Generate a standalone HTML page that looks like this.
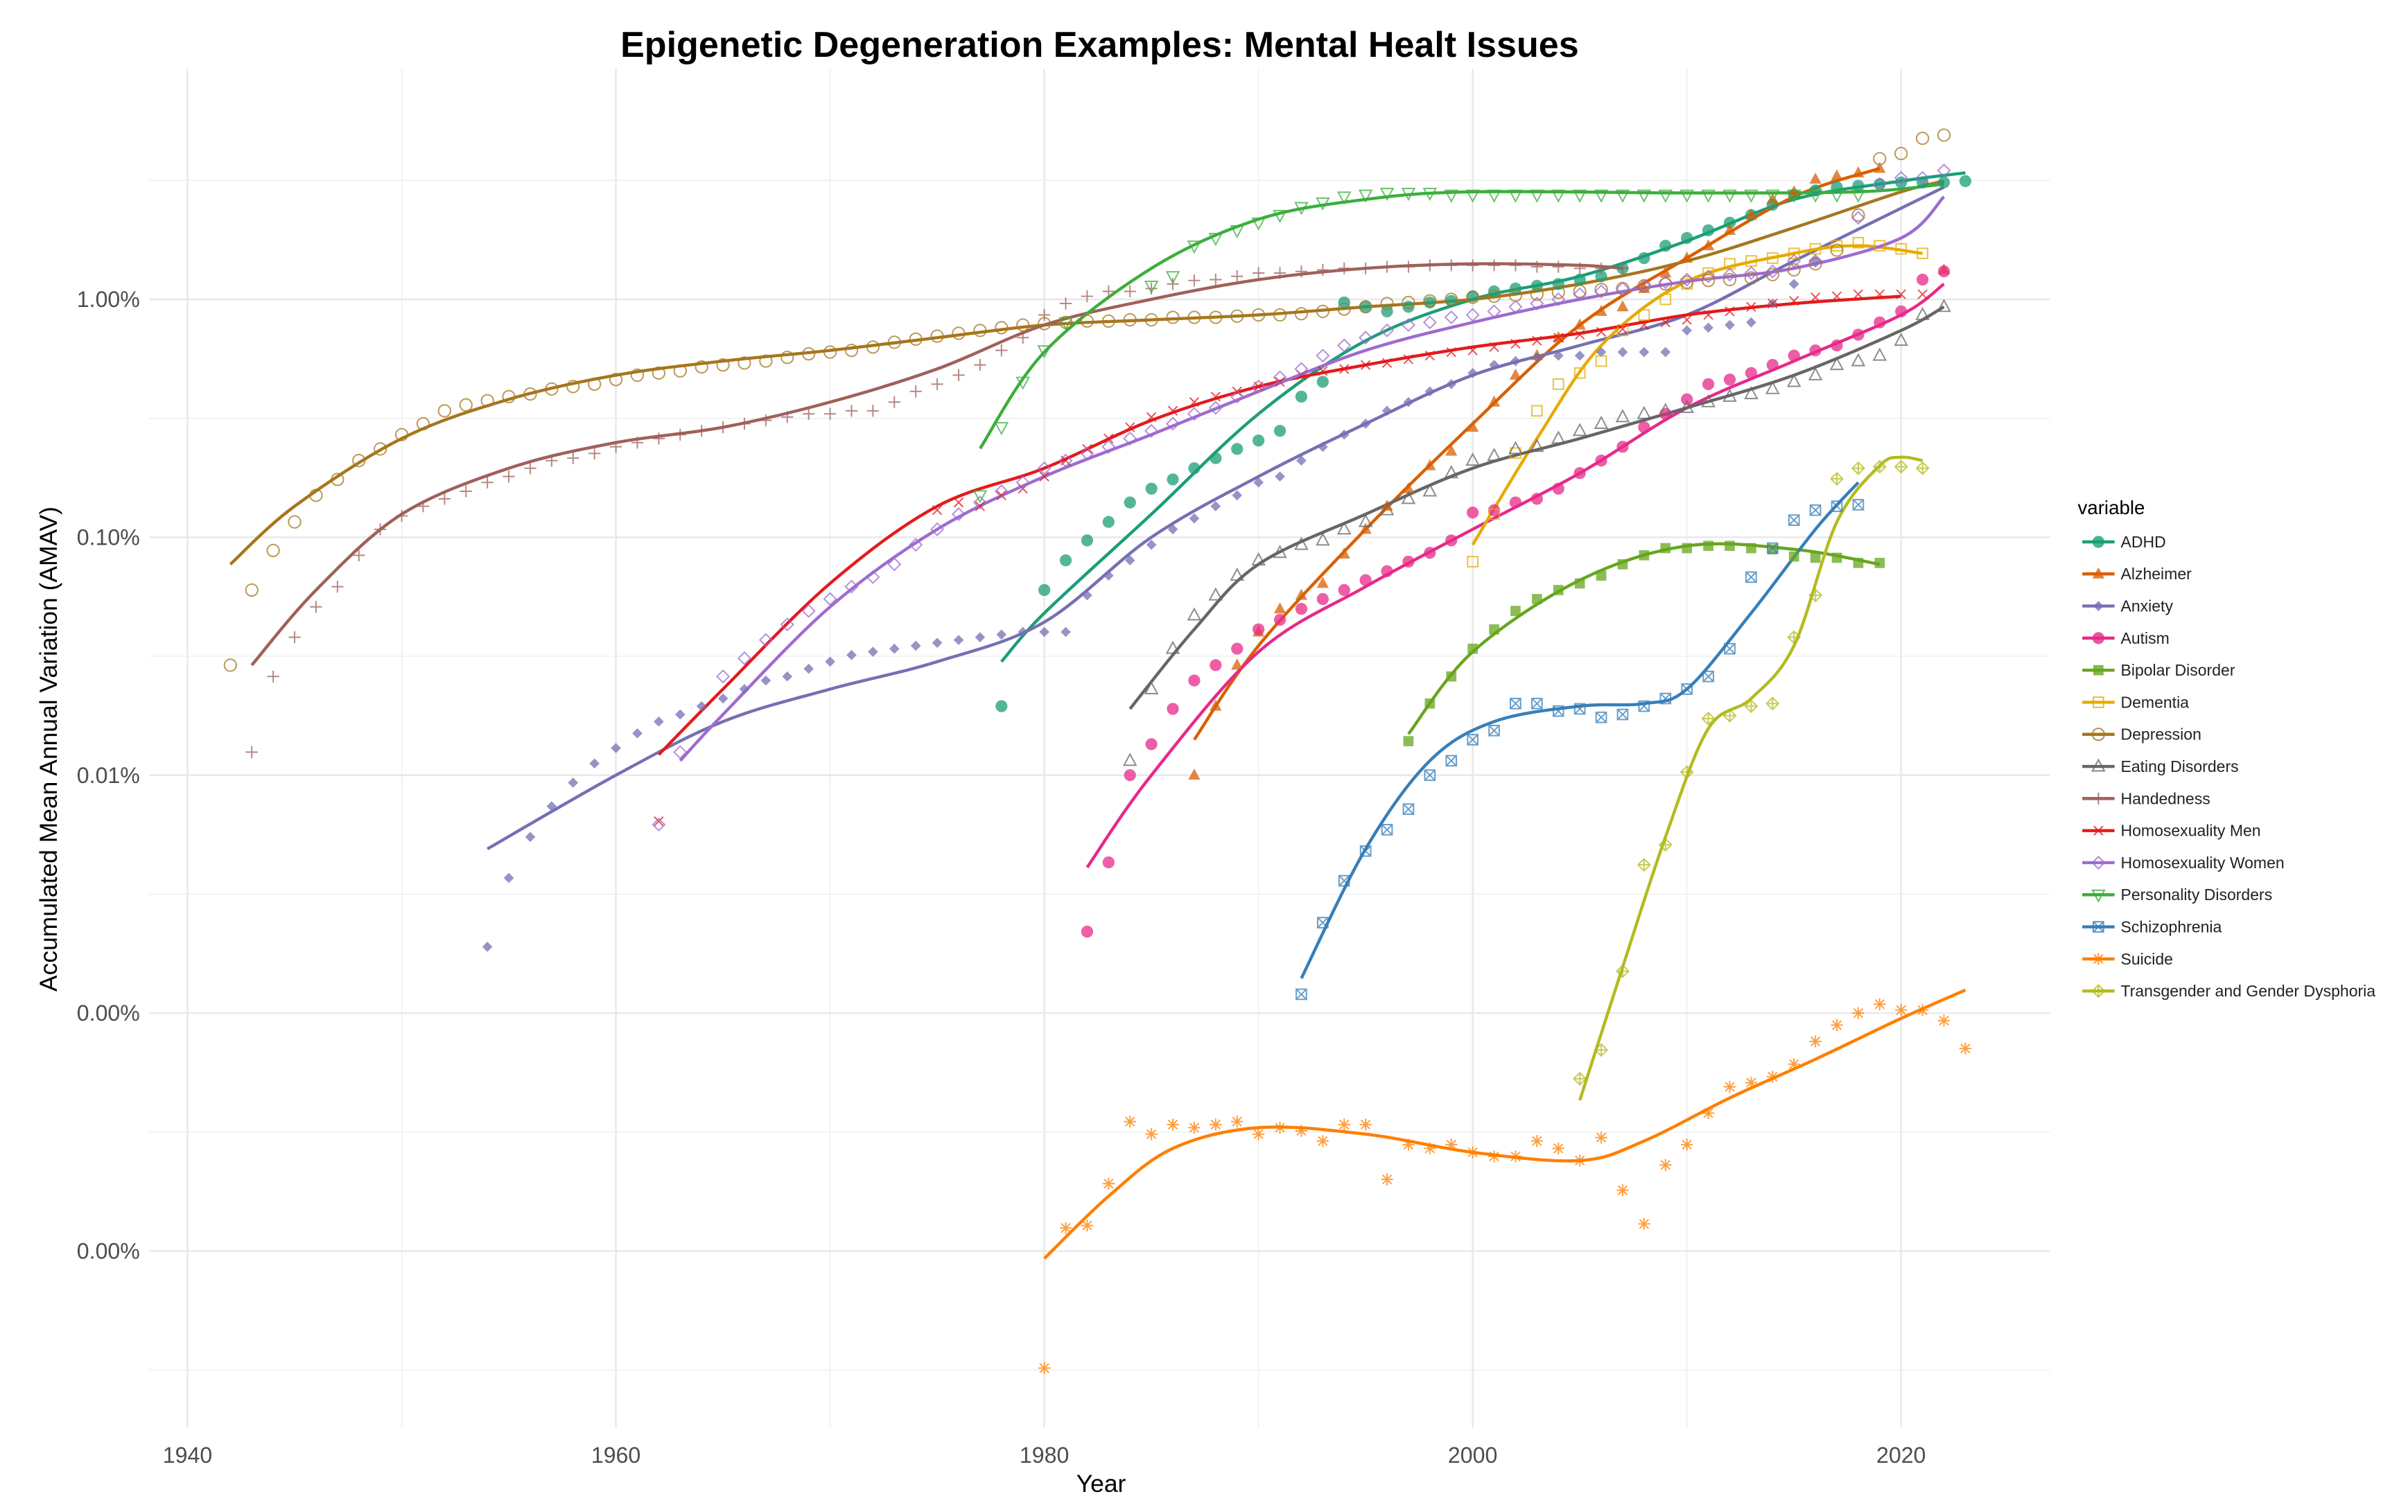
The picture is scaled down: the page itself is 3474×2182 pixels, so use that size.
<!DOCTYPE html>
<html><head><meta charset="utf-8"><style>
html,body{margin:0;padding:0;background:#fff;}
svg{display:block;font-family:"Liberation Sans",Arial,sans-serif;}
</style></head><body>
<svg id="chart" xmlns="http://www.w3.org/2000/svg" width="3474" height="2182" viewBox="0 0 1568 985">
<rect x="0" y="0" width="1568" height="985" fill="#ffffff"/>
<g id="grid"></g>
<g id="lines"></g>
<g id="points"></g>
<g id="axes"></g>
<g id="legend"></g>
<text x="716" y="37" text-anchor="middle" font-size="23.5" font-weight="bold" fill="#000">Epigenetic Degeneration Examples: Mental Healt Issues</text>
<text x="717" y="972" text-anchor="middle" font-size="16" fill="#000">Year</text>
<text transform="translate(37,488) rotate(-90)" text-anchor="middle" font-size="16" fill="#000">Accumulated Mean Annual Variation (AMAV)</text>
</svg>
<script>
function yrs(a,b){var r=[];for(var i=a;i<=b;i++)r.push(i);return r;}
// ---- data (values in %) ----
const adhdYears=[1978].concat(yrs(1980,2023));
const adhdValues=[.0195,.060,.080,.097,.116,.14,.16,.175,.195,.215,.235,.255,.28,.39,.45,.97,.93,.89,.93,.97,.985,1.03,1.08,1.11,1.14,1.16,1.21,1.25,1.35,1.49,1.68,1.81,1.95,2.10,2.26,2.5,2.75,2.87,2.96,3.0,3.05,3.1,3.1,3.1,3.14];
const adhdTrendYears=[1978,1980,1985,1990,1995,2000,2005,2010,2015,2020,2023];
const adhdTrendValues=[.030,.048,.125,.33,.67,1,1.25,1.76,2.63,3.14,3.4];

const alzYears=yrs(1987,2019).concat([2022]);
const alzValues=[.01,.0195,.029,.040,.050,.057,.064,.085,.108,.135,.16,.20,.23,.29,.37,.48,.58,.69,.78,.89,.93,1.11,1.29,1.49,1.68,1.95,2.26,2.63,2.83,3.2,3.3,3.4,3.55,1.33];
const alzTrendYears=[1987,1990,1995,2000,2005,2010,2015,2019];
const alzTrendValues=[.0141,.035,.108,.30,.78,1.49,2.7,3.55];

const anxYears=yrs(1954,2016);
const anxValues=[.0019,.0037,.0055,.0074,.0093,.0112,.013,.015,.0168,.018,.0195,.021,.023,.025,.026,.028,.030,.032,.033,.034,.035,.036,.037,.038,.039,.040,.040,.040,.057,.069,.080,.093,.108,.12,.135,.15,.17,.18,.21,.24,.27,.30,.34,.37,.41,.44,.49,.53,.55,.57,.58,.58,.60,.60,.60,.60,.74,.76,.78,.80,.96,1.16,1.45];
const anxTrendYears=[1954,1960,1965,1970,1975,1980,1985,1990,1995,2000,2005,2010,2015,2022];
const anxTrendValues=[.0049,.01,.0168,.023,.030,.044,.1,.18,.30,.48,.64,.86,1.45,2.96];

const autYears=yrs(1982,2022);
const autValues=[.0022,.0043,.01,.0135,.019,.025,.029,.034,.041,.045,.050,.055,.060,.066,.072,.079,.086,.097,.127,.13,.14,.145,.16,.186,.21,.24,.29,.33,.38,.44,.46,.49,.53,.58,.61,.64,.71,.80,.89,1.21,1.31];
const autTrendYears=[1982,1985,1990,1995,2000,2005,2010,2015,2020,2022];
const autTrendValues=[.0041,.01,.033,.062,.108,.186,.35,.55,.86,1.16];

const bipYears=yrs(1997,2019);
const bipValues=[.0139,.020,.026,.034,.041,.049,.055,.060,.064,.069,.077,.084,.090,.090,.092,.092,.090,.089,.083,.082,.082,.078,.078];
const bipTrendYears=[1997,2000,2005,2010,2015,2019];
const bipTrendValues=[.0149,.033,.066,.092,.089,.077];

const demYears=yrs(2000,2021);
const demValues=[.079,.125,.226,.34,.44,.49,.55,.74,.86,1.0,1.16,1.29,1.41,1.45,1.49,1.56,1.63,1.68,1.73,1.68,1.63,1.56];
const demTrendYears=[2000,2003,2006,2010,2015,2018,2021];
const demTrendValues=[.093,.26,.64,1.19,1.56,1.68,1.56];

const depYears=yrs(1942,2022);
const depValues=[.029,.060,.088,.116,.15,.175,.21,.235,.27,.30,.34,.36,.375,.39,.40,.42,.43,.44,.46,.48,.49,.50,.52,.53,.54,.55,.57,.59,.60,.61,.63,.66,.68,.70,.72,.74,.76,.78,.79,.80,.81,.81,.82,.82,.84,.84,.84,.85,.86,.86,.87,.89,.91,.93,.96,.97,.985,1.0,1.02,1.03,1.04,1.05,1.07,1.08,1.10,1.11,1.14,1.16,1.18,1.20,1.21,1.23,1.27,1.33,1.41,1.61,2.26,3.9,4.1,4.75,4.9];
const depTrendYears=[1942,1945,1950,1955,1960,1965,1970,1975,1980,1985,1990,1995,2000,2005,2010,2015,2020,2022];
const depTrendValues=[.077,.135,.26,.38,.48,.55,.61,.69,.78,.82,.86,.93,1,1.16,1.45,2.0,2.83,3.14];

const eatYears=yrs(1984,2022);
const eatValues=[.0115,.023,.034,.047,.057,.069,.080,.086,.093,.097,.108,.116,.13,.145,.156,.186,.21,.22,.235,.24,.26,.28,.30,.32,.33,.34,.35,.37,.39,.40,.42,.45,.48,.53,.55,.58,.67,.86,.93];
const eatTrendYears=[1984,1987,1990,1995,2000,2005,2010,2015,2020,2022];
const eatTrendValues=[.019,.041,.077,.125,.195,.26,.35,.48,.74,.93];

const handYears=yrs(1943,2007);
const handValues=[.0125,.026,.038,.051,.062,.084,.108,.123,.135,.145,.156,.17,.18,.195,.21,.215,.225,.24,.25,.26,.27,.28,.29,.30,.31,.32,.33,.33,.34,.34,.37,.41,.44,.48,.53,.61,.69,.86,.96,1.03,1.08,1.08,1.11,1.16,1.20,1.21,1.25,1.29,1.29,1.31,1.33,1.35,1.35,1.37,1.37,1.39,1.39,1.39,1.39,1.39,1.37,1.37,1.35,1.35,1.35];
const handTrendYears=[1943,1946,1950,1955,1960,1965,1970,1975,1980,1985,1990,1995,2000,2005,2007];
const handTrendValues=[.029,.060,.125,.195,.25,.29,.37,.51,.78,1,1.21,1.35,1.41,1.39,1.35];

const menYears=[1962].concat(yrs(1975,2021));
const menValues=[.0064,.13,.14,.135,.15,.16,.18,.21,.235,.26,.29,.32,.34,.37,.39,.41,.43,.45,.48,.50,.51,.53,.54,.56,.58,.60,.61,.63,.65,.67,.69,.71,.73,.75,.78,.80,.82,.86,.89,.93,.96,.985,1.02,1.03,1.05,1.05,1.05,1.05];
const menTrendYears=[1962,1965,1970,1975,1980,1985,1990,1995,2000,2005,2010,2015,2020];
const menTrendValues=[.0122,.023,.064,.135,.195,.31,.43,.53,.63,.72,.86,.96,1.03];

const womYears=[1962,1963].concat(yrs(1965,2016),yrs(2018,2022));
const womValues=[.0062,.0125,.026,.031,.037,.043,.049,.055,.062,.068,.077,.093,.108,.125,.14,.156,.17,.195,.21,.225,.24,.26,.28,.30,.33,.35,.39,.43,.47,.51,.58,.64,.69,.74,.78,.80,.84,.86,.89,.93,.96,1.0,1.05,1.08,1.11,1.14,1.18,1.21,1.25,1.27,1.29,1.31,1.45,1.45,2.2,3.05,3.24,3.24,3.48];
const womTrendYears=[1963,1965,1970,1975,1980,1985,1990,1995,2000,2005,2010,2015,2020,2022];
const womTrendValues=[.0115,.018,.051,.108,.18,.27,.41,.61,.80,1,1.19,1.35,1.81,2.7];

const perYears=yrs(1977,1981).concat(yrs(1985,2018));
const perValues=[.15,.29,.45,.61,.80,1.14,1.25,1.68,1.81,1.95,2.10,2.26,2.44,2.55,2.7,2.75,2.8,2.8,2.8,2.75,2.75,2.75,2.75,2.75,2.75,2.75,2.75,2.75,2.75,2.75,2.75,2.75,2.75,2.75,2.75,2.75,2.75,2.75,2.75];
const perTrendYears=[1977,1980,1985,1990,1995,2000,2010,2018,2022];
const perTrendValues=[.236,.60,1.35,2.17,2.63,2.83,2.8,2.83,3.05];

const schYears=yrs(1992,2018);
const schValues=[.0012,.0024,.0036,.0048,.0059,.0072,.01,.0115,.0141,.0154,.020,.020,.0186,.019,.0175,.018,.0195,.021,.023,.026,.034,.068,.090,.118,.13,.135,.137];
const schTrendYears=[1992,1995,1998,2001,2005,2008,2010,2013,2016,2018];
const schTrendValues=[.0014,.0049,.0115,.0168,.0195,.020,.023,.048,.108,.17];

const suiYears=yrs(1980,2023);
const suiValues=[.0000322,.000125,.000128,.000192,.00035,.00031,.00034,.00033,.00034,.00035,.00031,.00033,.00032,.00029,.00034,.00034,.0002,.00028,.00027,.00028,.00026,.00025,.00025,.00029,.00027,.00024,.00030,.00018,.00013,.00023,.00028,.00038,.00049,.00051,.00054,.00061,.00076,.00089,.001,.00109,.00103,.00103,.00093,.00071];
const suiTrendYears=[1980,1983,1986,1990,1995,2000,2005,2008,2012,2016,2020,2023];
const suiTrendValues=[.000093,.00017,.00027,.00033,.00031,.00026,.00024,.00029,.00044,.00064,.00095,.00125];

const traYears=yrs(2005,2021);
const traValues=[.00053,.00070,.0015,.0042,.0051,.0103,.0173,.0178,.0195,.020,.038,.057,.176,.195,.198,.198,.195];
const traTrendYears=[2005,2007,2009,2011,2013,2015,2017,2019,2020,2021];
const traTrendValues=[.00043,.00156,.0055,.0157,.021,.035,.116,.20,.217,.21];

const seriesNames=["ADHD","Alzheimer","Anxiety","Autism","Bipolar Disorder","Dementia","Depression","Eating Disorders","Handedness","Homosexuality Men","Homosexuality Women","Personality Disorders","Schizophrenia","Suicide","Transgender and Gender Dysphoria"];
const xTickLabels=["1940","1960","1980","2000","2020"];
const xTickYears=[1940,1960,1980,2000,2020];
const yTickValues=[1,0.1,0.01,0.001,0.0001];
const yTickLabels=["1.00%","0.10%","0.01%","0.00%","0.00%"];

const S=[
 [adhdYears,adhdValues,adhdTrendYears,adhdTrendValues,"#1b9e77","circle"],
 [alzYears,alzValues,alzTrendYears,alzTrendValues,"#d95f02","tri"],
 [anxYears,anxValues,anxTrendYears,anxTrendValues,"#7570b3","diamond"],
 [autYears,autValues,autTrendYears,autTrendValues,"#e7298a","circle"],
 [bipYears,bipValues,bipTrendYears,bipTrendValues,"#66a61e","square"],
 [demYears,demValues,demTrendYears,demTrendValues,"#e6ab02","osquare"],
 [depYears,depValues,depTrendYears,depTrendValues,"#a6761d","ocircle"],
 [eatYears,eatValues,eatTrendYears,eatTrendValues,"#666666","otri"],
 [handYears,handValues,handTrendYears,handTrendValues,"#a0605a","plus"],
 [menYears,menValues,menTrendYears,menTrendValues,"#e41a1c","cross"],
 [womYears,womValues,womTrendYears,womTrendValues,"#9e6bd0","odiamond"],
 [perYears,perValues,perTrendYears,perTrendValues,"#3cae3c","otridown"],
 [schYears,schValues,schTrendYears,schTrendValues,"#377eb8","squarex"],
 [suiYears,suiValues,suiTrendYears,suiTrendValues,"#ff7f00","asterisk"],
 [traYears,traValues,traTrendYears,traTrendValues,"#b3bb1f","diamondplus"]
];

// ---- scales ----
function xs(yr){return 680+(yr-1980)*13.95;}
function ys(v){return 195-155*Math.log10(v);}
const NS="http://www.w3.org/2000/svg";
function mk(tag,attrs,parent){var e=document.createElementNS(NS,tag);for(var k in attrs)e.setAttribute(k,attrs[k]);parent.appendChild(e);return e;}
function slug(s){return s.toLowerCase().replace(/[^a-z0-9]+/g,'-');}

// grid
const grid=document.getElementById('grid');
const PL=97,PR=1335,PT=45,PB=930;
[1950,1970,1990,2010].forEach(function(yr){var l=mk('line',{x1:xs(yr),x2:xs(yr),y1:PT,y2:PB,stroke:'#ededed','stroke-width':0.6},grid);

});
xTickYears.forEach(function(yr){var l=mk('line',{x1:xs(yr),x2:xs(yr),y1:PT,y2:PB,stroke:'#e8e8e8','stroke-width':1.1},grid);

});
yTickValues.forEach(function(v){var yy=ys(v);var l=mk('line',{x1:PL,x2:PR,y1:yy,y2:yy,stroke:'#e8e8e8','stroke-width':1.1},grid);


var y2=ys(v*Math.sqrt(10));var m=mk('line',{x1:PL,x2:PR,y1:y2,y2:y2,stroke:'#ededed','stroke-width':0.6},grid);

});
var lm=ys(0.0001/Math.sqrt(10));var lml=mk('line',{x1:PL,x2:PR,y1:lm,y2:lm,stroke:'#ededed','stroke-width':0.6},grid);



// axes labels
const axes=document.getElementById('axes');
xTickYears.forEach(function(yr,i){var t=mk('text',{x:xs(yr),y:953,'text-anchor':'middle','font-size':14.5,fill:'#4d4d4d'},axes);t.textContent=xTickLabels[i];

});
yTickValues.forEach(function(v,i){var t=mk('text',{x:91,y:ys(v)+5,'text-anchor':'end','font-size':14.5,fill:'#4d4d4d'},axes);t.textContent=yTickLabels[i];

});

// marker
function marker(shape,cx,cy,col,parent,r){
 r=r||3.9;var g=mk('g',{},parent);var sw=0.9;
 if(shape==='circle')mk('circle',{cx:cx,cy:cy,r:r,fill:col},g);
 else if(shape==='tri')mk('polygon',{points:[cx,cy-r*1.1,cx+r,cy+r*0.75,cx-r,cy+r*0.75].join(' '),fill:col},g);
 else if(shape==='diamond'){var q=r*0.85;mk('polygon',{points:[cx,cy-q,cx+q,cy,cx,cy+q,cx-q,cy].join(' '),fill:col},g);}
 else if(shape==='square')mk('rect',{x:cx-r*0.85,y:cy-r*0.85,width:r*1.7,height:r*1.7,fill:col},g);
 else if(shape==='osquare')mk('rect',{x:cx-r*0.85,y:cy-r*0.85,width:r*1.7,height:r*1.7,fill:'none',stroke:col,'stroke-width':sw},g);
 else if(shape==='ocircle')mk('circle',{cx:cx,cy:cy,r:r,fill:'none',stroke:col,'stroke-width':sw},g);
 else if(shape==='otri')mk('polygon',{points:[cx,cy-r*1.1,cx+r,cy+r*0.75,cx-r,cy+r*0.75].join(' '),fill:'none',stroke:col,'stroke-width':sw},g);
 else if(shape==='otridown')mk('polygon',{points:[cx,cy+r*1.1,cx+r,cy-r*0.75,cx-r,cy-r*0.75].join(' '),fill:'none',stroke:col,'stroke-width':sw},g);
 else if(shape==='plus'){mk('path',{d:'M'+(cx-r)+' '+cy+'H'+(cx+r)+'M'+cx+' '+(cy-r)+'V'+(cy+r),stroke:col,'stroke-width':sw},g);}
 else if(shape==='cross'){var c=r*0.75;mk('path',{d:'M'+(cx-c)+' '+(cy-c)+'L'+(cx+c)+' '+(cy+c)+'M'+(cx-c)+' '+(cy+c)+'L'+(cx+c)+' '+(cy-c),stroke:col,'stroke-width':sw},g);}
 else if(shape==='odiamond'){mk('polygon',{points:[cx,cy-r,cx+r,cy,cx,cy+r,cx-r,cy].join(' '),fill:'none',stroke:col,'stroke-width':sw},g);}
 else if(shape==='squarex'){var h=r*0.85;mk('rect',{x:cx-h,y:cy-h,width:2*h,height:2*h,fill:'none',stroke:col,'stroke-width':sw},g);mk('path',{d:'M'+(cx-h)+' '+(cy-h)+'L'+(cx+h)+' '+(cy+h)+'M'+(cx-h)+' '+(cy+h)+'L'+(cx+h)+' '+(cy-h),stroke:col,'stroke-width':sw},g);}
 else if(shape==='asterisk'){var c2=r*0.75;mk('path',{d:'M'+(cx-r)+' '+cy+'H'+(cx+r)+'M'+cx+' '+(cy-r)+'V'+(cy+r)+'M'+(cx-c2)+' '+(cy-c2)+'L'+(cx+c2)+' '+(cy+c2)+'M'+(cx-c2)+' '+(cy+c2)+'L'+(cx+c2)+' '+(cy-c2),stroke:col,'stroke-width':sw},g);}
 else if(shape==='diamondplus'){mk('polygon',{points:[cx,cy-r,cx+r,cy,cx,cy+r,cx-r,cy].join(' '),fill:'none',stroke:col,'stroke-width':sw},g);mk('path',{d:'M'+(cx-r)+' '+cy+'H'+(cx+r)+'M'+cx+' '+(cy-r)+'V'+(cy+r),stroke:col,'stroke-width':sw},g);}
 return g;
}
function crPath(pts){
 var d='M'+pts[0][0]+' '+pts[0][1];
 for(var i=0;i<pts.length-1;i++){var p0=pts[i-1]||pts[i],p1=pts[i],p2=pts[i+1],p3=pts[i+2]||p2;
  var c1x=p1[0]+(p2[0]-p0[0])/6,c1y=p1[1]+(p2[1]-p0[1])/6,c2x=p2[0]-(p3[0]-p1[0])/6,c2y=p2[1]-(p3[1]-p1[1])/6;
  d+=' C'+c1x.toFixed(2)+' '+c1y.toFixed(2)+' '+c2x.toFixed(2)+' '+c2y.toFixed(2)+' '+p2[0].toFixed(2)+' '+p2[1].toFixed(2);}
 return d;
}
const linesG=document.getElementById('lines'),ptsG=document.getElementById('points');
S.forEach(function(s,si){
 var nm=slug(seriesNames[si]);
 var pg=mk('g',{opacity:0.75},ptsG);
 
 
 s[0].forEach(function(yr,i){var m=marker(s[5],xs(yr),ys(s[1][i]),s[4],pg);
  
  });
 var pts=s[2].map(function(yr,i){return [xs(yr),ys(s[3][i])];});
 var p=mk('path',{d:crPath(pts),fill:'none',stroke:s[4],'stroke-width':2.0},linesG);
 
 
});
// legend
const lg=document.getElementById('legend');
var lt=mk('text',{x:1353,y:335,'font-size':12.5,fill:'#000'},lg);lt.textContent='variable';


S.forEach(function(s,si){
 var yy=353+si*20.9;
 var eg=mk('g',{},lg);
 
 
 mk('line',{x1:1356,x2:1377,y1:yy,y2:yy,stroke:s[4],'stroke-width':2},eg);
 var mm=marker(s[5],1366.5,yy,s[4],eg,3.9);mm.setAttribute('opacity',0.8);
 var t=mk('text',{x:1381,y:yy+3.6,'font-size':10.4,fill:'#222'},eg);t.textContent=seriesNames[si];
});
</script>
</body></html>
